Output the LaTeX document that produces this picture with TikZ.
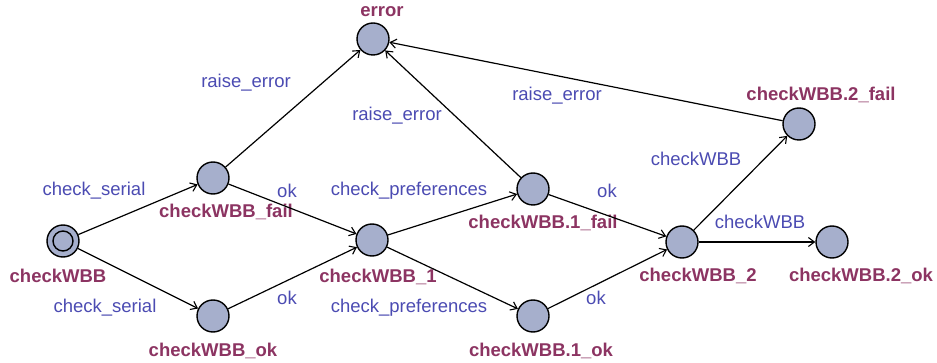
\documentclass[tikz,border=0pt]{standalone}
\usepackage{fontspec}
\setmainfont{Liberation Sans}
\usetikzlibrary{arrows.meta}
\definecolor{statefill}{HTML}{A6AFCC}
\definecolor{namecol}{HTML}{8C3462}
\definecolor{synccol}{HTML}{4B4BB2}
\tikzset{
  state/.style={circle, draw=black, line width=1.4pt, fill=statefill,
    minimum size=32pt, inner sep=0pt},
  sname/.style={text=namecol, font=\fontsize{18.5}{22}\selectfont\bfseries,
    inner sep=0pt, anchor=center},
  sync/.style={text=synccol, font=\fontsize{18.5}{22}\selectfont,
    inner sep=0pt, anchor=center},
  edge/.style={line width=1.2pt, -{Straight Barb[length=6pt,width=9pt,line width=1.1pt]}},
}
\begin{document}
\begin{tikzpicture}[x=1pt, y=-1pt]
  \useasboundingbox (0,0) rectangle (937,363);

  % locations
  \node[state] (n0)  at (63,241)  {};
  \draw[line width=1.4pt] (n0.center) circle (10pt);
  \node[state] (fa)  at (213,178) {};
  \node[state] (ok)  at (213,316) {};
  \node[state] (err) at (373,39)  {};
  \node[state] (c1)  at (372,240) {};
  \node[state] (f1)  at (533,189) {};
  \node[state] (o1)  at (533,316) {};
  \node[state] (c2)  at (682,242) {};
  \node[state] (f2)  at (799,124) {};
  \node[state] (o2)  at (832,242) {};

  % location names
  \node[sname] (ln0)  at (58,276)  {checkWBB};
  \node[sname] (lfa)  at (226,212) {checkWBB\_fail};
  \node[sname] (lok)  at (213,351) {checkWBB\_ok};
  \node[sname] (lerr) at (382,12)  {error};
  \node[sname] (lc1)  at (378,277) {checkWBB\_1};
  \node[sname] (lf1)  at (543,223) {checkWBB.1\_fail};
  \node[sname] (lo1)  at (541,351) {checkWBB.1\_ok};
  \node[sname] (lc2)  at (698,276) {checkWBB\_2};
  \node[sname] (lf2)  at (821,95)  {checkWBB.2\_fail};
  \node[sname] (lo2)  at (861,276) {checkWBB.2\_ok};

  % transitions
  \draw[edge] (n0) -- (fa);
  \draw[edge] (n0) -- (ok);
  \draw[edge] (fa) -- (err);
  \draw[edge] (fa) -- (c1);
  \draw[edge] (ok) -- (c1);
  \draw[edge] (c1) -- (f1);
  \draw[edge] (c1) -- (o1);
  \draw[edge] (f1) -- (err);
  \draw[edge] (f1) -- (c2);
  \draw[edge] (o1) -- (c2);
  \draw[edge] (c2) -- (f2);
  \draw[edge] (c2) -- (o2);
  \draw[edge] (f2) -- (err);

  % synchronisation labels
  \node[sync] (s1)  at (94,191)  {check\_serial};
  \node[sync] (s2)  at (105,308) {check\_serial};
  \node[sync] (s3)  at (246,83)  {raise\_error};
  \node[sync] (s4)  at (287,191) {ok};
  \node[sync] (s5)  at (287,298) {ok};
  \node[sync] (s6)  at (409,191) {check\_preferences};
  \node[sync] (s7)  at (409,308) {check\_preferences};
  \node[sync] (s8)  at (397,116) {raise\_error};
  \node[sync] (s9)  at (557,96)  {raise\_error};
  \node[sync] (s10) at (607,191) {ok};
  \node[sync] (s11) at (596,298) {ok};
  \node[sync] (s12) at (696,159) {checkWBB};
  \node[sync] (s13) at (760,222) {checkWBB};
\end{tikzpicture}
\end{document}
